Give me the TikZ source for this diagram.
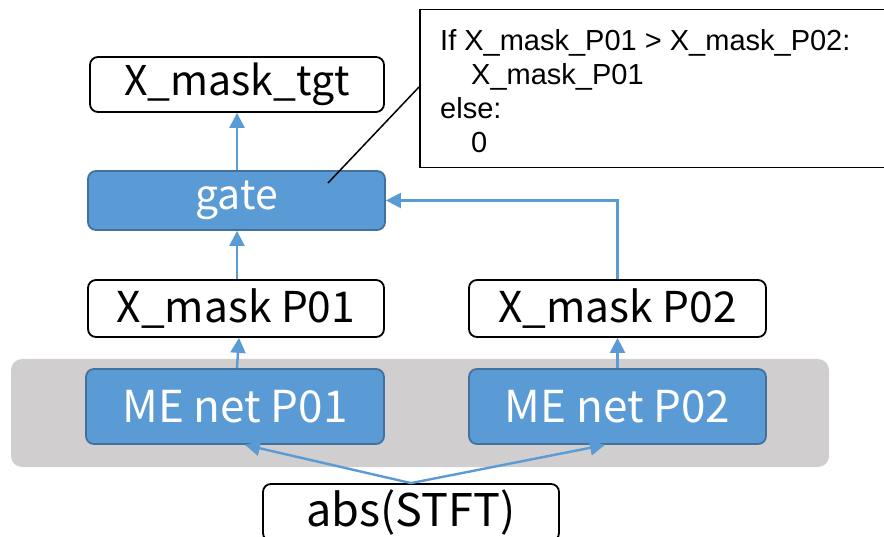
\documentclass[tikz,border=0pt]{standalone}
\usepackage{fontspec}
\setmainfont{Noto Sans CJK JP}
\newfontfamily\notefont{Liberation Sans}
\usetikzlibrary{arrows.meta,calc}
\definecolor{boxblue}{HTML}{5B9BD5}
\definecolor{boxedge}{HTML}{41719C}
\definecolor{panelgray}{HTML}{D0CECE}
\tikzset{
  x=1pt, y=-1pt,
  lbl/.style={font=\fontsize{41}{48}\selectfont, inner sep=0pt, rounded corners=8pt, line width=1.8pt},
  plainbox/.style={lbl, draw=black, fill=white},
  bluebox/.style={lbl, draw=boxedge, fill=boxblue, text=white},
  arr/.style={draw=boxblue, line width=2.4pt, -{Triangle[length=15pt,width=15pt]}},
}
\begin{document}
\begin{tikzpicture}
\useasboundingbox (0,0) rectangle (884,537);
% grey panel behind the two networks
\fill[panelgray, rounded corners=11pt] (11,359) rectangle (829,467);

\node[plainbox, minimum width=294pt, minimum height=55pt] (tgt) at (237,84.5) {X\_mask\_tgt};
\node[bluebox, minimum width=297pt, minimum height=59pt] (gate) at (236.5,200.5) {gate};
\node[plainbox, minimum width=296pt, minimum height=57pt, font=\fontsize{42.5}{48}\selectfont] (xm1) at (236,308.5) {X\_mask P01};
\node[plainbox, minimum width=297pt, minimum height=57pt, font=\fontsize{42.5}{48}\selectfont] (xm2) at (617.5,308.5) {X\_mask P02};
\node[bluebox, minimum width=298pt, minimum height=75pt, font=\fontsize{44}{48}\selectfont] (me1) at (235,406.5) {ME net P01};
\node[bluebox, minimum width=297pt, minimum height=75pt, font=\fontsize{44}{48}\selectfont] (me2) at (617.5,406.5) {ME net P02};
\node[plainbox, minimum width=296pt, minimum height=57pt, font=\fontsize{45}{50}\selectfont] (abs) at (411,512.5) {abs(STFT)};

% note box with the gating rule
\node[draw=black, line width=1.5pt, fill=white, minimum width=480pt, minimum height=158pt,
      anchor=north west, inner sep=0pt] (note) at (419,9) {};
\node[font=\notefont\fontsize{29}{34}\selectfont, anchor=north west, align=left, inner sep=0pt]
  (notetext) at (440,29.5) {If X\_mask\_P01 > X\_mask\_P02:\\\hspace*{31pt}X\_mask\_P01\\else:\\\hspace*{31pt}0};
\coordinate (callout) at (328,183);
\draw[black, line width=1.5pt] (callout) -- (note.west |- 0,87);

% data flow
\draw[arr] (abs.north) -- ([xshift=10pt]me1.south);
\draw[arr] (abs.north) -- ([xshift=-12.5pt]me2.south);
\draw[arr] ([xshift=2pt]me1.north) -- ([xshift=3pt]xm1.south);
\draw[arr] (me2.north) -- (xm2.south);
\draw[arr] ([xshift=1pt]xm1.north) -- ([xshift=0.5pt]gate.south);
\draw[arr] ([xshift=0.5pt]gate.north) -- (tgt.south);
\draw[arr] (xm2.north) |- (gate.east);
\end{tikzpicture}
\end{document}
